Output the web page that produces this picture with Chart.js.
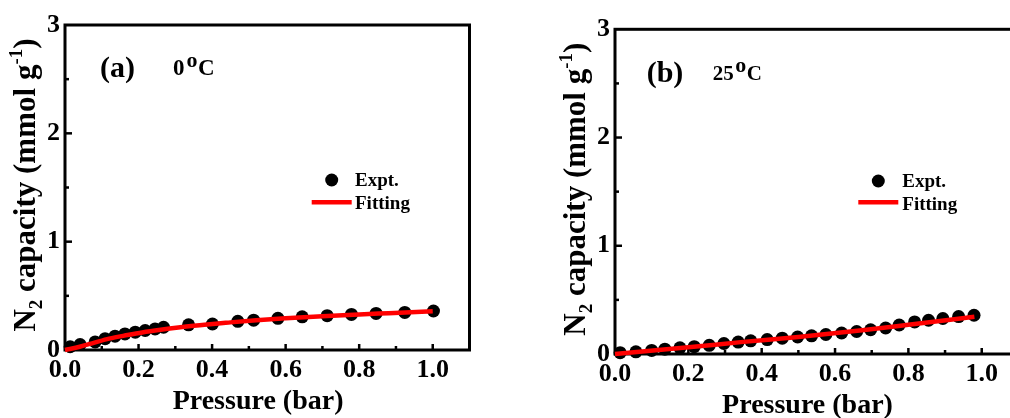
<!DOCTYPE html>
<html>
<head>
<meta charset="utf-8">
<script src="https://cdn.jsdelivr.net/npm/chart.js@4.4.1/dist/chart.umd.min.js"></script>
<style>
  html, body { margin: 0; padding: 0; background: #fff; overflow: hidden; width: 1010px; height: 418px; }
  canvas { position: absolute; top: 0; }
  #panelA { left: 0; }
  #panelB { left: 530px; }
</style>
</head>
<body>
<canvas id="panelA" width="500" height="418"></canvas>
<canvas id="panelB" width="520" height="418"></canvas>
<script>
// Axis ticks and labels
const xTickValues = [0, 0.2, 0.4, 0.6, 0.8, 1.0];
const xTickLabels = ['0.0', '0.2', '0.4', '0.6', '0.8', '1.0'];
const xMinorTicks = [0.1, 0.3, 0.5, 0.7, 0.9];
const yTickValues = [0, 1, 2, 3];
const yTickLabels = ['0', '1', '2', '3'];
const yMinorTicks = [0.5, 1.5, 2.5];

// (a) 0 °C isotherm: measured points and fitted curve
const pressureA = [0.014, 0.041, 0.082, 0.109, 0.136, 0.163, 0.191, 0.218, 0.245, 0.268, 0.336,
                   0.401, 0.470, 0.513, 0.579, 0.645, 0.713, 0.779, 0.846, 0.924, 1.002];
const uptakeA   = [0.030, 0.050, 0.075, 0.105, 0.128, 0.148, 0.165, 0.180, 0.195, 0.210, 0.232,
                   0.240, 0.265, 0.275, 0.292, 0.306, 0.317, 0.328, 0.338, 0.347, 0.360];
const fitPressureA = [0, 0.04, 0.08, 0.12, 0.17, 0.21, 0.26, 0.35, 0.45, 0.52, 0.60, 0.70, 0.80, 0.88, 1.00];
const fitUptakeA   = [0, 0.030, 0.068, 0.105, 0.138, 0.162, 0.186, 0.223, 0.255, 0.275, 0.293, 0.312, 0.328, 0.340, 0.358];

// (b) 25 °C isotherm: measured points and fitted curve
const pressureB = [0.014, 0.057, 0.100, 0.136, 0.177, 0.216, 0.257, 0.297, 0.336, 0.370, 0.415, 0.456, 0.498,
                   0.536, 0.575, 0.618, 0.659, 0.697, 0.738, 0.775, 0.817, 0.855, 0.894, 0.937, 0.979];
const uptakeB   = [0.012, 0.020, 0.033, 0.045, 0.057, 0.068, 0.080, 0.097, 0.110, 0.122, 0.133, 0.146, 0.157,
                   0.168, 0.180, 0.194, 0.208, 0.224, 0.240, 0.268, 0.296, 0.312, 0.328, 0.346, 0.358];
const fitPressureB = [0, 0.20, 0.35, 0.50, 0.68, 0.80, 0.98];
const fitUptakeB   = [0, 0.062, 0.112, 0.158, 0.222, 0.270, 0.344];

// Text
const panelLabels = ['(a)', '(b)'];
const temperatures = ['0', '25'];
const seriesNames = ['Expt.', 'Fitting'];
const xAxisTitle = 'Pressure (bar)';
// y title pieces: [text, shift] where -1 = subscript, 1 = superscript
const yAxisTitle = [['N', 0], ['2', -1], [' capacity (mmol g', 0], ['-1', 1], [')', 0]];

const SERIF = '"Liberation Serif", "Times New Roman", Times, serif';
const bold = px => 'bold ' + px + 'px ' + SERIF;

function toPoints(xs, ys) {
  return xs.map((x, i) => ({ x: x, y: ys[i] }));
}

function drawYTitle(ctx, bx, cy, size) {
  const subSize = Math.round(size * 0.62);
  let total = 0;
  yAxisTitle.forEach(([t, s]) => {
    ctx.font = bold(s === 0 ? size : subSize);
    total += ctx.measureText(t).width;
  });
  ctx.save();
  ctx.translate(bx, cy);
  ctx.rotate(-Math.PI / 2);
  let x = -total / 2;
  yAxisTitle.forEach(([t, s]) => {
    ctx.font = bold(s === 0 ? size : subSize);
    const dy = s === -1 ? size * 0.24 : (s === 1 ? -size * 0.42 : 0);
    ctx.fillText(t, x, dy);
    x += ctx.measureText(t).width;
  });
  ctx.restore();
}

function decorPlugin(p) {
  return {
    id: 'decor' + p.index,
    beforeDatasetsDraw(chart) {
      const { ctx, chartArea: a, scales: { x, y } } = chart;
      ctx.save();
      ctx.strokeStyle = '#000';
      ctx.lineWidth = 3;
      ctx.strokeRect(a.left, a.top, a.right - a.left, a.bottom - a.top);
      ctx.lineWidth = 2.5;
      const seg = (x1, y1, x2, y2) => { ctx.beginPath(); ctx.moveTo(x1, y1); ctx.lineTo(x2, y2); ctx.stroke(); };
      xTickValues.forEach(v => { if (v > x.min && v < x.max) { const px = x.getPixelForValue(v); seg(px, a.bottom, px, a.bottom - 6); } });
      xMinorTicks.forEach(v => { const px = x.getPixelForValue(v); seg(px, a.bottom, px, a.bottom - 4); });
      yTickValues.forEach(v => { if (v > y.min && v < y.max) { const py = y.getPixelForValue(v); seg(a.left, py, a.left + 7, py); } });
      yMinorTicks.forEach(v => { const py = y.getPixelForValue(v); seg(a.left, py, a.left + 4, py); });
      ctx.restore();
    },
    afterDraw(chart) {
      const { ctx, chartArea: a, scales: { x } } = chart;
      ctx.save();
      ctx.fillStyle = '#000';
      ctx.textBaseline = 'alphabetic';

      // axis titles
      ctx.font = bold(28);
      ctx.textAlign = 'center';
      ctx.fillText(xAxisTitle, x.getPixelForValue(0.525), a.bottom + 59);
      ctx.textAlign = 'left';
      drawYTitle(ctx, a.left - 30, (a.top + a.bottom) / 2 - 2.5, 31);

      // panel label and temperature
      ctx.font = bold(30);
      ctx.fillText(panelLabels[p.index], a.left + p.label[0], a.top + p.label[1]);
      let tx = a.left + p.temp[0];
      const ty = a.top + p.temp[1];
      ctx.font = bold(p.tempSize);
      ctx.fillText(temperatures[p.index], tx, ty);
      tx += ctx.measureText(temperatures[p.index]).width + p.tempGap;
      ctx.font = bold(22);
      ctx.fillText('o', tx, ty - 8.5);
      tx += ctx.measureText('o').width + 0.5;
      ctx.font = bold(p.tempSize);
      ctx.fillText('C', tx, ty);

      // legend
      const L = p.legend;
      ctx.beginPath();
      ctx.arc(a.left + L.dot[0], a.top + L.dot[1], 6.5, 0, Math.PI * 2);
      ctx.fill();
      ctx.strokeStyle = '#ff0000';
      ctx.lineWidth = 4.5;
      ctx.beginPath();
      ctx.moveTo(a.left + L.line[0], a.top + L.line[2]);
      ctx.lineTo(a.left + L.line[1], a.top + L.line[2]);
      ctx.stroke();
      ctx.font = bold(19);
      ctx.fillText(seriesNames[0], a.left + L.text, a.top + L.base[0]);
      ctx.fillText(seriesNames[1], a.left + L.text, a.top + L.base[1]);
      ctx.restore();
    }
  };
}

function buildPanel(canvasId, d, p) {
  const tickFont = { family: SERIF, size: 26, weight: 'bold' };
  return new Chart(document.getElementById(canvasId), {
    type: 'scatter',
    data: {
      datasets: [
        {
          label: seriesNames[1],
          data: toPoints(d.fitX, d.fitY),
          showLine: true,
          borderColor: '#ff0000',
          borderWidth: 4.5,
          pointRadius: 0,
          cubicInterpolationMode: 'monotone',
          order: 0,
          clip: false
        },
        {
          label: seriesNames[0],
          data: toPoints(d.x, d.y),
          pointRadius: 6.5,
          pointBackgroundColor: '#000',
          pointBorderColor: '#000',
          pointBorderWidth: 0,
          backgroundColor: '#000',
          order: 1,
          clip: false
        }
      ]
    },
    options: {
      responsive: false,
      animation: false,
      devicePixelRatio: 1,
      events: [],
      layout: { padding: { top: p.padTop, right: p.padRight, left: 0, bottom: 0 } },
      plugins: { legend: { display: false }, tooltip: { enabled: false } },
      scales: {
        x: {
          type: 'linear', min: 0, max: 1.1,
          afterBuildTicks: s => { s.ticks = xTickValues.map(v => ({ value: v })); },
          afterFit: s => { s.height = p.xAxisHeight; },
          grid: { display: false, drawTicks: false, tickLength: 0 },
          border: { display: false },
          ticks: { callback: (v, i) => xTickLabels[i], font: tickFont, color: '#000', padding: 5, maxRotation: 0, autoSkip: false }
        },
        y: {
          type: 'linear', min: 0, max: 3,
          afterBuildTicks: s => { s.ticks = yTickValues.map(v => ({ value: v })); },
          afterFit: s => { s.width = p.yAxisWidth; },
          grid: { display: false, drawTicks: false, tickLength: 0 },
          border: { display: false },
          ticks: { callback: (v, i) => yTickLabels[i], font: tickFont, color: '#000', padding: 5, autoSkip: false }
        }
      }
    },
    plugins: [decorPlugin(p)]
  });
}

buildPanel('panelA',
  { x: pressureA, y: uptakeA, fitX: fitPressureA, fitY: fitUptakeA },
  {
    index: 0, padTop: 25, padRight: 30.5, yAxisWidth: 65, xAxisHeight: 68,
    label: [35, 52], temp: [108, 50], tempSize: 23, tempGap: 2,
    legend: { dot: [266.7, 155], line: [246.7, 286.7, 177.3], text: 290, base: [160.7, 184] }
  });

buildPanel('panelB',
  { x: pressureB, y: uptakeB, fitX: fitPressureB, fitY: fitUptakeB },
  {
    index: 1, padTop: 29.3, padRight: 31.6, yAxisWidth: 85, xAxisHeight: 64,
    label: [31.7, 52.2], temp: [97.7, 50.7], tempSize: 21, tempGap: 1.5,
    legend: { dot: [263.3, 151.7], line: [243.3, 283.3, 173], text: 287.3, base: [157.4, 180.7] }
  });
</script>
</body>
</html>
